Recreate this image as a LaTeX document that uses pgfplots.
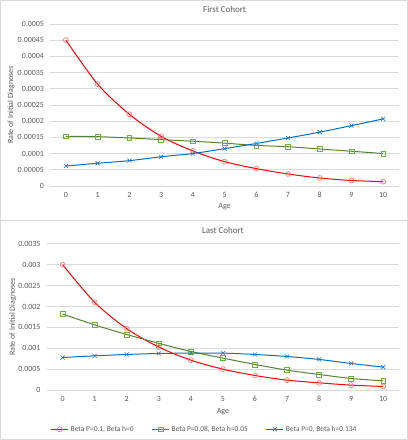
\documentclass[border=0pt]{standalone}
\usepackage{pgfplots}
\pgfplotsset{compat=1.18}
\usepackage{fontspec}
\setmainfont{Carlito}
\definecolor{txt}{HTML}{595959}
\definecolor{gridc}{HTML}{D9D9D9}
\definecolor{rline}{HTML}{FF0000}
\definecolor{rmark}{HTML}{FF6F6F}
\definecolor{gline}{HTML}{548235}
\definecolor{gmark}{HTML}{70AD47}
\definecolor{bline}{HTML}{0070C0}
\definecolor{bmark}{HTML}{2E75B6}
\pgfplotsset{
  common/.style={
    scale only axis,
    xmin=-0.5, xmax=10.5,
    ymin=0,
    xtick={0,...,10},
    axis line style={draw=none},
    major tick length=0pt,
    ymajorgrids, grid style={gridc, line width=0.6pt},
    tick label style={font=\fontsize{8}{9}\selectfont, text=txt},
    xticklabel style={yshift=-2.5bp},
    yticklabel style={xshift=-2.5bp},
    label style={font=\fontsize{8}{9}\selectfont, text=txt},
    title style={font=\fontsize{9}{10}\selectfont, text=txt},
    /pgf/number format/assume math mode=true,
    scaled y ticks=false,
    yticklabel style={/pgf/number format/fixed, /pgf/number format/precision=5},
    xlabel={Age},
    ylabel={Rate of Initial Diagnoses},
    every axis plot/.append style={smooth, line width=1pt},
  },
  rser/.style={rline, mark=o, mark size=2.5pt, mark options={draw=rmark, line width=0.6pt}},
  gser/.style={gline, mark=square, mark size=2.4pt, mark options={draw=gmark, line width=0.6pt}},
  bser/.style={bline, mark=x, mark size=2.9pt, mark options={draw=bmark, line width=0.6pt}},
}
\begin{document}
\begin{tikzpicture}[x=1bp,y=1bp]
\draw[gridc, line width=0.6pt] (0.5,220) rectangle (407.5,439.5);
\draw[gridc, line width=0.6pt] (0.5,0.5) rectangle (407.5,220);
\begin{axis}[common,
  at={(50.2bp,254bp)}, anchor=south west,
  width=348.7bp, height=162bp,
  ymax=0.0005,
  ytick={0,0.00005,...,0.00051},
  title={First Cohort},
  title style={at={(0.5,1)}, anchor=center, yshift=8bp},
  xlabel style={at={(axis description cs:0.5,-0.13)}, anchor=center},
  ylabel style={at={(axis description cs:-0.112,0.5)}, anchor=center, rotate=0},
]
\addplot[rser] coordinates {(0,0.00045)(1,0.000314)(2,0.000221)(3,0.000153)(4,0.000108)(5,0.000075)(6,0.0000534)(7,0.000037)(8,0.0000246)(9,0.0000168)(10,0.0000133)};
\addplot[gser] coordinates {(0,0.000153)(1,0.000152)(2,0.000148)(3,0.000143)(4,0.000138)(5,0.000132)(6,0.000125)(7,0.000121)(8,0.000114)(9,0.000107)(10,0.0001)};
\addplot[bser] coordinates {(0,0.0000616)(1,0.00007)(2,0.000078)(3,0.00009)(4,0.0001)(5,0.000115)(6,0.000131)(7,0.000148)(8,0.000166)(9,0.000186)(10,0.000207)};
\end{axis}
\begin{axis}[common,
  at={(46.7bp,50bp)}, anchor=south west,
  width=352.4bp, height=146.3bp,
  ymax=0.0035,
  ytick={0,0.0005,...,0.00351},
  title={Last Cohort},
  title style={at={(0.5,1)}, anchor=center, yshift=7.7bp},
  xlabel style={at={(axis description cs:0.5,-0.1435)}, anchor=center},
  ylabel style={at={(axis description cs:-0.0956,0.5)}, anchor=center, rotate=0},
  legend style={at={(axis description cs:0.448,-0.267)}, anchor=center, draw=none, fill=none,
    legend columns=3, font=\fontsize{7.5}{8}\selectfont, text=txt, inner sep=0pt,
    /tikz/every even column/.append style={column sep=16bp}},
  legend cell align=left,
]
\addplot[rser] coordinates {(0,0.003)(1,0.0021)(2,0.00147)(3,0.00103)(4,0.000718)(5,0.000502)(6,0.000351)(7,0.000239)(8,0.000175)(9,0.00012)(10,0.000088)};
\addlegendentry{Beta P=0.1, Beta h=0}
\addplot[gser] coordinates {(0,0.00182)(1,0.00156)(2,0.00133)(3,0.00112)(4,0.000925)(5,0.000766)(6,0.000614)(7,0.000478)(8,0.000375)(9,0.000279)(10,0.000223)};
\addlegendentry{Beta P=0.08, Beta h=0.05}
\addplot[bser] coordinates {(0,0.00078)(1,0.00082)(2,0.000853)(3,0.000877)(4,0.000885)(5,0.000885)(6,0.000853)(7,0.000805)(8,0.000734)(9,0.000638)(10,0.00055)};
\addlegendentry{Beta P=0, Beta h=0.134}
\end{axis}
\end{tikzpicture}
\end{document}
